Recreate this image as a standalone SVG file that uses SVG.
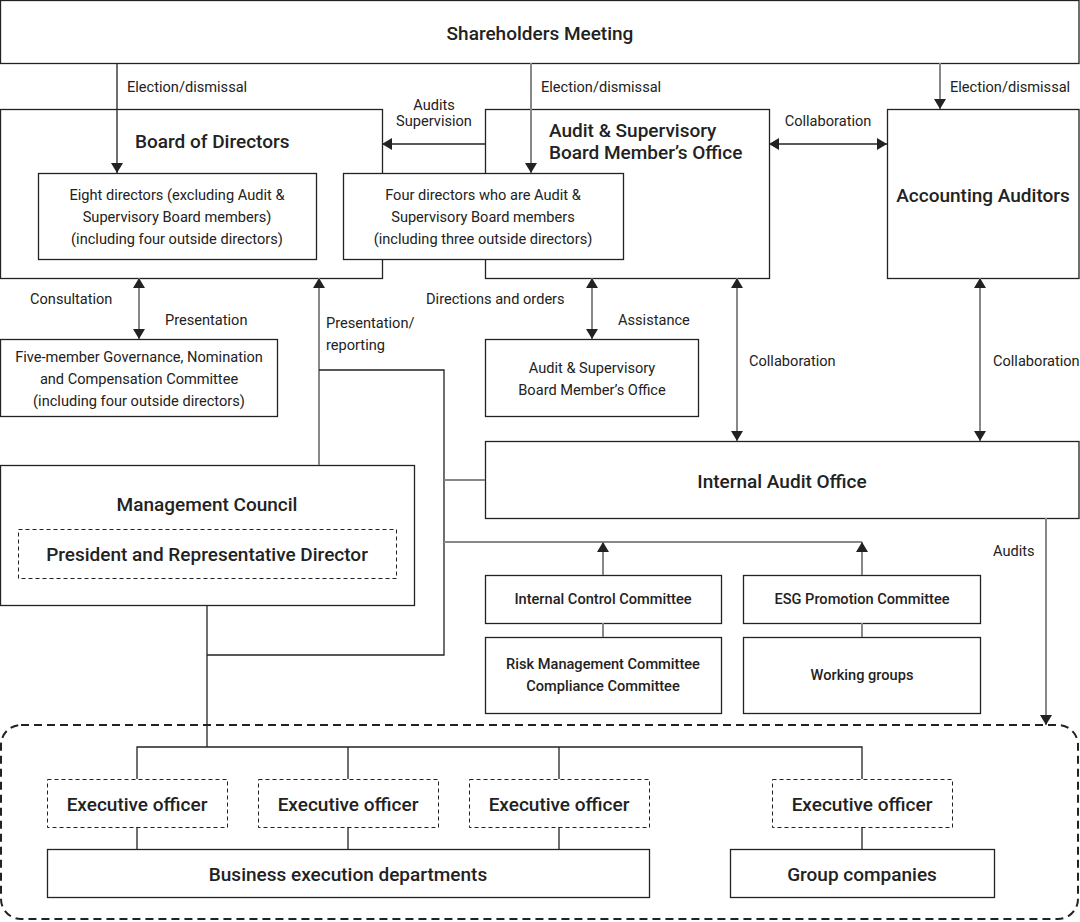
<svg xmlns="http://www.w3.org/2000/svg" width="1080" height="922" viewBox="0 0 1080 922">
<defs>
<style>
.box{fill:#fff;stroke:#222;stroke-width:1.3}
.dbox{fill:#fff;stroke:#222;stroke-width:1;stroke-dasharray:4 3}
.t{font-family:Roboto,"Liberation Sans",sans-serif;fill:#222}
.h{font-size:19px;font-weight:500}
.m{font-size:14.6px}
.s{font-size:14.6px;font-weight:500}
.c{text-anchor:middle}
.dk{stroke:#222;stroke-width:1.3;fill:none}
.gr{stroke:#888;stroke-width:2;fill:none}
</style>
<marker id="ah" viewBox="0 0 10 12" markerWidth="10" markerHeight="12" refX="10" refY="6" orient="auto-start-reverse" markerUnits="userSpaceOnUse">
<path d="M0,0 L10,6 L0,12 z" fill="#222"/>
</marker>
</defs>
<rect width="1080" height="922" fill="#fff"/>

<g id="executive-area">
<rect x="1" y="725" width="1077" height="194" rx="20" fill="none" stroke="#222" stroke-width="2" stroke-dasharray="8 5"/>
</g>

<g id="shareholders">
<rect class="box" x="0.5" y="0.5" width="1078.5" height="63"/>
<text class="t h c" x="540" y="40">Shareholders Meeting</text>
</g>

<g id="board">
<rect class="box" x="0.5" y="109.5" width="382" height="169"/>
<text class="t h" x="135" y="148">Board of Directors</text>
</g>

<g id="audit-board">
<rect class="box" x="485.5" y="109.5" width="284" height="169"/>
<text class="t h" x="549" y="137">Audit &amp; Supervisory</text>
<text class="t h" x="549" y="159">Board Member’s Office</text>
</g>

<g id="eight-directors">
<rect class="box" x="38.5" y="173.5" width="278" height="86"/>
<text class="t m c" x="177" y="200">Eight directors (excluding Audit &amp;</text>
<text class="t m c" x="177" y="222">Supervisory Board members)</text>
<text class="t m c" x="177" y="244">(including four outside directors)</text>
</g>

<g id="four-directors">
<rect class="box" x="343.5" y="173.5" width="280" height="86"/>
<text class="t m c" x="483" y="200">Four directors who are Audit &amp;</text>
<text class="t m c" x="483" y="222">Supervisory Board members</text>
<text class="t m c" x="483" y="244">(including three outside directors)</text>
</g>

<g id="accounting-auditors">
<rect class="box" x="887.5" y="109.5" width="191.5" height="169"/>
<text class="t h c" x="983" y="202">Accounting Auditors</text>
</g>

<g id="committee">
<rect class="box" x="0.5" y="339.5" width="277" height="77"/>
<text class="t m c" x="139" y="362">Five-member Governance, Nomination</text>
<text class="t m c" x="139" y="384">and Compensation Committee</text>
<text class="t m c" x="139" y="406">(including four outside directors)</text>
</g>

<g id="office-small">
<rect class="box" x="485.5" y="339.5" width="213" height="77"/>
<text class="t m c" x="592" y="373">Audit &amp; Supervisory</text>
<text class="t m c" x="592" y="395">Board Member’s Office</text>
</g>

<g id="internal-audit">
<rect class="box" x="485.5" y="441.5" width="593.5" height="77"/>
<text class="t h c" x="782" y="488">Internal Audit Office</text>
</g>

<g id="management-council">
<rect class="box" x="0.5" y="465.5" width="414" height="140"/>
<text class="t h c" x="207" y="511">Management Council</text>
<rect class="dbox" x="18.5" y="529.5" width="378" height="49"/>
<text class="t h c" x="207" y="561">President and Representative Director</text>
</g>

<g id="internal-control">
<rect class="box" x="485.5" y="575.5" width="236" height="48"/>
<text class="t s c" x="603" y="604">Internal Control Committee</text>
</g>

<g id="esg">
<rect class="box" x="743.5" y="575.5" width="237" height="48"/>
<text class="t s c" x="862" y="604">ESG Promotion Committee</text>
</g>

<g id="risk">
<rect class="box" x="485.5" y="637.5" width="236" height="76"/>
<text class="t s c" x="603" y="669">Risk Management Committee</text>
<text class="t s c" x="603" y="691">Compliance Committee</text>
</g>

<g id="working-groups">
<rect class="box" x="743.5" y="637.5" width="237" height="76"/>
<text class="t s c" x="862" y="680">Working groups</text>
</g>

<g id="exec1">
<rect class="dbox" x="47.5" y="779.5" width="180" height="48"/>
<text class="t h c" x="137" y="811">Executive officer</text>
</g>
<g id="exec2">
<rect class="dbox" x="258.5" y="779.5" width="180" height="48"/>
<text class="t h c" x="348" y="811">Executive officer</text>
</g>
<g id="exec3">
<rect class="dbox" x="469.5" y="779.5" width="180" height="48"/>
<text class="t h c" x="559" y="811">Executive officer</text>
</g>
<g id="exec4">
<rect class="dbox" x="772.5" y="779.5" width="180" height="48"/>
<text class="t h c" x="862" y="811">Executive officer</text>
</g>

<g id="business">
<rect class="box" x="47.5" y="849.5" width="602" height="48"/>
<text class="t h c" x="348" y="881">Business execution departments</text>
</g>

<g id="group-companies">
<rect class="box" x="730.5" y="849.5" width="264" height="48"/>
<text class="t h c" x="862" y="881">Group companies</text>
</g>

<g id="connectors">
<line class="dk" x1="117" y1="63" x2="117" y2="173" marker-end="url(#ah)"/>
<line class="gr" x1="531" y1="63" x2="531" y2="173" marker-end="url(#ah)"/>
<line class="gr" x1="940" y1="63" x2="940" y2="109" marker-end="url(#ah)"/>
<line class="dk" x1="485" y1="144" x2="382" y2="144" marker-end="url(#ah)"/>
<line class="dk" x1="769" y1="144" x2="887" y2="144" marker-start="url(#ah)" marker-end="url(#ah)"/>
<line class="gr" x1="139" y1="278" x2="139" y2="339" marker-start="url(#ah)" marker-end="url(#ah)"/>
<line class="gr" x1="319" y1="465" x2="319" y2="278" marker-end="url(#ah)"/>
<line class="gr" x1="592" y1="278" x2="592" y2="339" marker-start="url(#ah)" marker-end="url(#ah)"/>
<line class="gr" x1="737" y1="278" x2="737" y2="441" marker-start="url(#ah)" marker-end="url(#ah)"/>
<line class="gr" x1="980" y1="278" x2="980" y2="441" marker-start="url(#ah)" marker-end="url(#ah)"/>
<polyline class="dk" points="319,370 444,370 444,655 207,655"/>
<line class="dk" x1="207" y1="605" x2="207" y2="747"/>
<line class="gr" x1="444" y1="480" x2="485" y2="480"/>
<line class="gr" x1="444" y1="542" x2="862" y2="542"/>
<line class="gr" x1="603" y1="575" x2="603" y2="542" marker-end="url(#ah)"/>
<line class="gr" x1="862" y1="575" x2="862" y2="542" marker-end="url(#ah)"/>
<line class="gr" x1="603" y1="623" x2="603" y2="637"/>
<line class="gr" x1="862" y1="623" x2="862" y2="637"/>
<line class="gr" x1="1046" y1="518" x2="1046" y2="725" marker-end="url(#ah)"/>
<polyline class="dk" points="137,779 137,747 862,747 862,779"/>
<line class="dk" x1="348" y1="747" x2="348" y2="779"/>
<line class="dk" x1="559" y1="747" x2="559" y2="779"/>
<line class="dk" x1="137" y1="827" x2="137" y2="849"/>
<line class="dk" x1="348" y1="827" x2="348" y2="849"/>
<line class="dk" x1="559" y1="827" x2="559" y2="849"/>
<line class="dk" x1="862" y1="827" x2="862" y2="849"/>
</g>

<g id="labels">
<text class="t m" x="127" y="92">Election/dismissal</text>
<text class="t m" x="541" y="92">Election/dismissal</text>
<text class="t m" x="950" y="92">Election/dismissal</text>
<text class="t m c" x="434" y="110">Audits</text>
<text class="t m c" x="434" y="126">Supervision</text>
<text class="t m c" x="828" y="126">Collaboration</text>
<text class="t m" x="30" y="304">Consultation</text>
<text class="t m" x="165" y="325">Presentation</text>
<text class="t m" x="326" y="328">Presentation/</text>
<text class="t m" x="326" y="350">reporting</text>
<text class="t m" x="426" y="304">Directions and orders</text>
<text class="t m" x="618" y="325">Assistance</text>
<text class="t m" x="749" y="366">Collaboration</text>
<text class="t m" x="993" y="366">Collaboration</text>
<text class="t m" x="993" y="556">Audits</text>
</g>
</svg>
